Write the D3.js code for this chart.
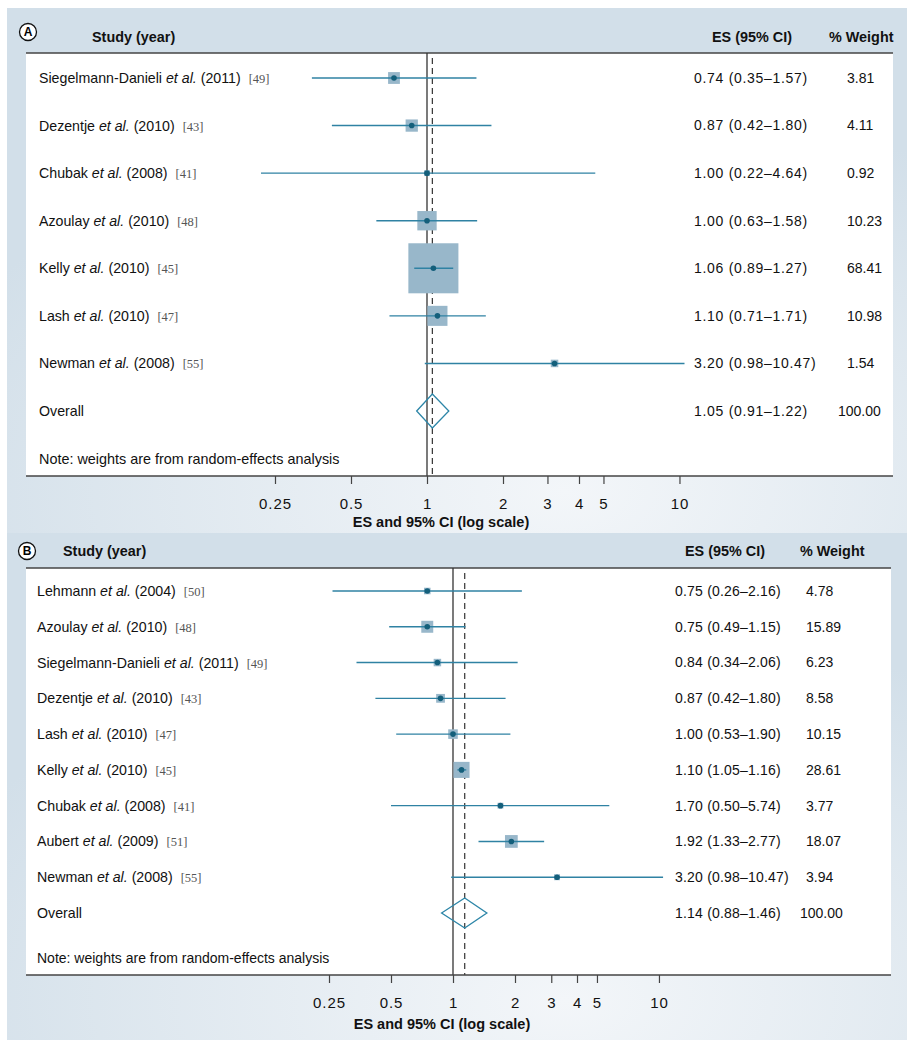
<!DOCTYPE html>
<html><head><meta charset="utf-8">
<script src="https://cdn.jsdelivr.net/npm/d3@7"></script>
<style>body{margin:0;background:#fff}svg{display:block}</style>
</head><body><svg id="c" width="912" height="1050"></svg>
<script>
// ---------- data ----------
const authorsA = ["Siegelmann-Danieli","Dezentje","Chubak","Azoulay","Kelly","Lash","Newman"];
const yearsA   = [2011,2010,2008,2010,2010,2010,2008];
const refsA    = [49,43,41,48,45,47,55];
const esA      = [0.74,0.87,1.00,1.00,1.06,1.10,3.20];
const lowA     = [0.35,0.42,0.22,0.63,0.89,0.71,0.98];
const highA    = [1.57,1.80,4.64,1.58,1.27,1.71,10.47];
const weightA  = [3.81,4.11,0.92,10.23,68.41,10.98,1.54];
const overallA = [1.05,0.91,1.22]; // ES, low, high

const authorsB = ["Lehmann","Azoulay","Siegelmann-Danieli","Dezentje","Lash","Kelly","Chubak","Aubert","Newman"];
const yearsB   = [2004,2010,2011,2010,2010,2010,2008,2009,2008];
const refsB    = [50,48,49,43,47,45,41,51,55];
const esB      = [0.75,0.75,0.84,0.87,1.00,1.10,1.70,1.92,3.20];
const lowB     = [0.26,0.49,0.34,0.42,0.53,1.05,0.50,1.33,0.98];
const highB    = [2.16,1.15,2.06,1.80,1.90,1.16,5.74,2.77,10.47];
const weightB  = [4.78,15.89,6.23,8.58,10.15,28.61,3.77,18.07,3.94];
const overallB = [1.14,0.88,1.46];

const tickValues = [0.25,0.5,1,2,3,4,5,10];
const headers = {study:"Study (year)", es:"ES (95% CI)", weight:"% Weight"};
const overallLabel = "Overall";
const noteText = "Note: weights are from random-effects analysis";
const axisTitle = "ES and 95% CI (log scale)";

// ---------- layout ----------
const SANS = "'Liberation Sans', Arial, Helvetica, sans-serif";
const SERIF = "'Liberation Serif', 'Times New Roman', serif";
const C = {ci:"#2f82a3", box:"#98b7ca", dot:"#145f7b", diamond:"#2d86a8", axis:"#444"};

const panels = [
  {letter:"A", authors:authorsA, years:yearsA, refs:refsA, es:esA, low:lowA, high:highA, w:weightA, overall:overallA,
   bg:[8,533], circle:[28,32], headY:37, studyHeadX:92, esHeadEnd:792, wHeadX:829,
   box:{x0:26,x1:893,y0:53,y1:476}, rows:[78,411], one:427, per:76, labelX:39, esX:694, esLS:0.7, wX:847, wXo:838,
   sqK:6.05, dH:17, titleX:441, titleY:522, noteSize:14.4},
  {letter:"B", authors:authorsB, years:yearsB, refs:refsB, es:esB, low:lowB, high:highB, w:weightB, overall:overallB,
   bg:[533,1040], circle:[27,551], headY:551, studyHeadX:63, esHeadEnd:765, wHeadX:800,
   box:{x0:26,x1:891,y0:568,y1:975}, rows:[591,913], one:453, per:62, labelX:37, esX:675, esLS:0.2, wX:806, wXo:800,
   sqK:3.0, dH:15, titleX:442, titleY:1024, noteSize:14}
];

const svg = d3.select("#c");
const defs = svg.append("defs");
const f2 = d3.format(".2f");

panels.forEach((p, pi) => {
  const g = svg.append("g");
  // background gradient
  const gid = "bg" + pi;
  const rg = defs.append("radialGradient").attr("id", gid)
    .attr("cx", "62%").attr("cy", "92%").attr("r", "75%");
  rg.append("stop").attr("offset", "0%").attr("stop-color", "#f3f6f9");
  rg.append("stop").attr("offset", "100%").attr("stop-color", "#d2dfe9");
  g.append("rect").attr("x", 7).attr("y", p.bg[0]).attr("width", 900).attr("height", p.bg[1] - p.bg[0])
    .attr("fill", `url(#${gid})`);

  // white plotting box
  const b = p.box;
  g.append("rect").attr("x", b.x0).attr("y", b.y0).attr("width", b.x1 - b.x0).attr("height", b.y1 - b.y0)
    .attr("fill", "#fff");
  g.append("line").attr("x1", b.x0).attr("x2", b.x1).attr("y1", b.y0).attr("y2", b.y0)
    .attr("stroke", C.axis).attr("stroke-width", 1.5);

  // headers
  const circ = g.append("g").attr("transform", `translate(${p.circle[0]},${p.circle[1]})`);
  circ.append("circle").attr("r", 8.5).attr("fill", "#fff").attr("stroke", "#111").attr("stroke-width", 1.3);
  circ.append("text").attr("text-anchor", "middle").attr("dy", "0.36em")
    .attr("font-family", SANS).attr("font-weight", "bold").attr("font-size", 12).text(p.letter);
  const head = (x, anchor, t) => g.append("text").attr("x", x).attr("y", p.headY).attr("dy", "0.35em")
    .attr("text-anchor", anchor).attr("font-family", SANS).attr("font-weight", "bold")
    .attr("font-size", 14.4).attr("fill", "#111").text(t);
  head(p.studyHeadX, "start", headers.study);
  head(p.esHeadEnd, "end", headers.es);
  head(p.wHeadX, "start", headers.weight);

  // scales
  const x = d3.scaleLog().base(2).domain([1, 2]).range([p.one, p.one + p.per]);
  const rowKeys = p.authors.map((a, i) => i).concat(["overall"]);
  const y = d3.scalePoint().domain(rowKeys).range(p.rows);

  // reference lines
  g.append("line").attr("x1", x(1)).attr("x2", x(1)).attr("y1", b.y0).attr("y2", b.y1)
    .attr("stroke", "#333").attr("stroke-width", 1.3);
  g.append("line").attr("x1", x(p.overall[0])).attr("x2", x(p.overall[0])).attr("y1", b.y0 + 5).attr("y2", b.y1)
    .attr("stroke", "#333").attr("stroke-width", 1.2).attr("stroke-dasharray", "6,4");

  // study rows
  const rows = p.authors.map((a, i) => ({i, a, yr:p.years[i], ref:p.refs[i], es:p.es[i], lo:p.low[i], hi:p.high[i], w:p.w[i]}));
  const rg2 = g.selectAll("g.row").data(rows).join("g").attr("class", "row");
  rg2.append("rect")
    .attr("x", d => x(d.es) - p.sqK * Math.sqrt(d.w) / 2)
    .attr("y", d => y(d.i) - p.sqK * Math.sqrt(d.w) / 2)
    .attr("width", d => p.sqK * Math.sqrt(d.w))
    .attr("height", d => p.sqK * Math.sqrt(d.w))
    .attr("fill", C.box);
  rg2.append("line").attr("x1", d => x(d.lo)).attr("x2", d => x(d.hi))
    .attr("y1", d => y(d.i)).attr("y2", d => y(d.i)).attr("stroke", C.ci).attr("stroke-width", 1.4);
  rg2.append("circle").attr("cx", d => x(d.es)).attr("cy", d => y(d.i)).attr("r", 2.8).attr("fill", C.dot);

  // labels
  const lab = rg2.append("text").attr("x", p.labelX).attr("y", d => y(d.i)).attr("dy", "0.35em")
    .attr("font-family", SANS).attr("font-size", 14.2).attr("fill", "#111");
  lab.append("tspan").text(d => d.a + " ");
  lab.append("tspan").attr("font-style", "italic").text("et al.");
  lab.append("tspan").text(d => ` (${d.yr})`);
  lab.append("tspan").attr("dx", 8).attr("font-family", SERIF).attr("font-size", 12.5).attr("fill", "#555").text(d => `[${d.ref}]`);

  rg2.append("text").attr("x", p.esX).attr("y", d => y(d.i)).attr("dy", "0.35em")
    .attr("font-family", SANS).attr("font-size", 14).attr("letter-spacing", p.esLS).attr("fill", "#111")
    .text(d => `${f2(d.es)} (${f2(d.lo)}\u2013${f2(d.hi)})`);
  rg2.append("text").attr("x", p.wX).attr("y", d => y(d.i)).attr("dy", "0.35em")
    .attr("font-family", SANS).attr("font-size", 14).attr("fill", "#111")
    .text(d => f2(d.w));

  // overall
  const oy = y("overall");
  const [oe, ol, oh] = p.overall;
  g.append("path")
    .attr("d", `M${x(ol)},${oy}L${x(oe)},${oy - p.dH}L${x(oh)},${oy}L${x(oe)},${oy + p.dH}Z`)
    .attr("fill", "none").attr("stroke", C.diamond).attr("stroke-width", 1.3);
  g.append("text").attr("x", p.labelX).attr("y", oy).attr("dy", "0.35em")
    .attr("font-family", SANS).attr("font-size", 14.2).attr("fill", "#111").text(overallLabel);
  g.append("text").attr("x", p.esX).attr("y", oy).attr("dy", "0.35em")
    .attr("font-family", SANS).attr("font-size", 14).attr("letter-spacing", p.esLS).attr("fill", "#111")
    .text(`${f2(oe)} (${f2(ol)}\u2013${f2(oh)})`);
  g.append("text").attr("x", p.wXo).attr("y", oy).attr("dy", "0.35em")
    .attr("font-family", SANS).attr("font-size", 14).attr("fill", "#111").text(f2(100));

  // note
  g.append("text").attr("x", p.labelX).attr("y", b.y1 - 17).attr("dy", "0.35em")
    .attr("font-family", SANS).attr("font-size", p.noteSize).attr("fill", "#111").text(noteText);

  // axis
  g.append("line").attr("x1", b.x0).attr("x2", b.x1).attr("y1", b.y1).attr("y2", b.y1)
    .attr("stroke", C.axis).attr("stroke-width", 1.5);
  const ax = g.append("g").attr("transform", `translate(0,${b.y1})`)
    .call(d3.axisBottom(x).tickValues(tickValues).tickFormat(d3.format("~g")).tickSize(8).tickPadding(14));
  ax.select(".domain").remove();
  ax.selectAll(".tick line").attr("stroke", C.axis).attr("stroke-width", 1.2);
  ax.selectAll(".tick text").attr("font-family", SANS).attr("font-size", 15).attr("letter-spacing", 0.9).attr("fill", "#111");
  g.append("text").attr("x", p.titleX).attr("y", p.titleY).attr("dy", "0.35em").attr("text-anchor", "middle")
    .attr("font-family", SANS).attr("font-weight", "bold").attr("font-size", 14.5).attr("fill", "#111").text(axisTitle);
});
</script>
</body></html>
